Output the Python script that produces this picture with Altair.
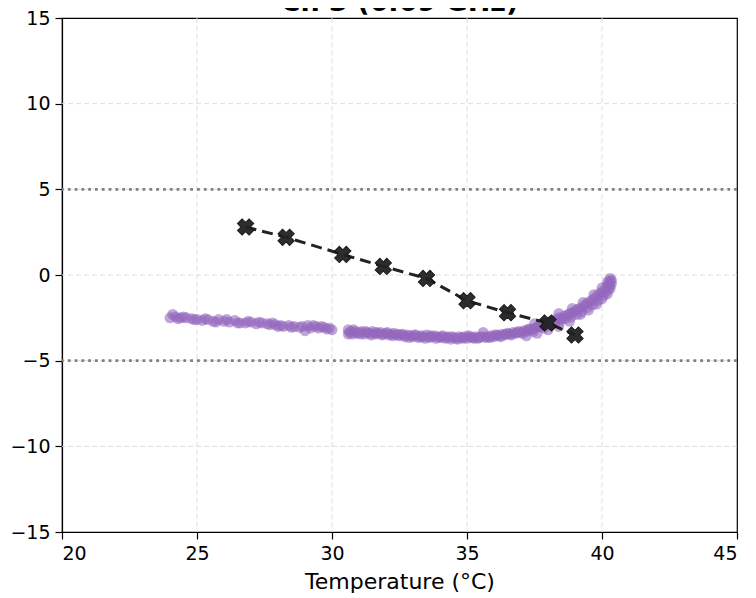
import altair as alt
import pandas as pd

# Purple measured trace (temperature, value)
trace_x = [
    24.0, 24.1, 24.2, 24.4, 24.6, 24.8, 25.0, 25.2, 25.4, 25.6, 25.8, 26.0, 26.2, 26.4,
    26.6, 26.8, 27.0, 27.2, 27.4, 27.6, 27.8, 27.9, 28.0, 28.2, 28.4, 28.6, 28.8, 29.0,
    29.1, 29.2, 29.4, 29.6, 29.8, 30.0,
    24.3, 24.5, 24.9, 25.3, 25.7, 26.1, 26.5, 26.9, 27.3, 27.7, 28.1, 28.5, 28.9, 29.3,
    29.5, 29.7, 29.9,
    30.6, 30.6, 30.7, 30.8, 30.9, 31.0, 31.1, 31.2, 31.3, 31.4, 31.5, 31.6, 31.7, 31.8,
    31.9, 32.0, 32.1, 32.2, 32.3, 32.4, 32.5, 32.6, 32.7, 32.8, 32.9, 33.0, 33.1, 33.2,
    33.3, 33.4, 33.5, 33.6, 33.7, 33.8, 33.9, 34.0, 34.1, 34.2, 34.3, 34.4, 34.5, 34.6,
    34.7, 34.8, 34.9, 35.0, 35.1, 35.2, 35.3, 35.4, 35.5, 35.6, 35.7, 35.8, 35.9, 36.0,
    36.1, 36.2, 36.3, 36.4, 36.5, 36.6, 36.7, 36.8, 36.9, 37.0, 37.1, 37.2, 37.3, 37.4,
    37.5, 37.6, 37.7, 37.8, 37.9, 38.0, 38.1, 38.2, 38.3, 38.4, 38.5, 38.6, 38.7, 38.8,
    38.9, 39.0, 39.1, 39.2, 39.3, 39.4, 39.5, 39.6, 39.7, 39.8, 39.9, 40.0, 40.1, 40.2,
    40.25, 40.3, 40.3,
    30.65, 30.75, 30.85, 31.05, 31.25, 31.45, 31.65, 31.85, 32.05, 32.25, 32.45, 32.65,
    32.85, 33.05, 33.25, 33.45, 33.65, 33.85, 34.05, 34.25, 34.45, 34.65, 34.85, 35.05,
    35.25, 35.45, 35.65, 35.85, 36.05, 36.25, 36.45, 36.65, 36.85, 37.05, 37.25, 37.45,
    37.65, 37.85, 38.05, 38.25, 38.45, 38.65, 38.85, 39.05, 39.25, 39.45, 39.65, 39.85,
    40.05, 40.15, 40.25, 40.3, 40.35,
    37.2, 37.6, 38.0, 38.4, 38.8, 39.2, 39.5, 39.8, 40.0, 40.2, 40.3, 40.35,
    37.5, 38.4, 38.9, 39.3, 39.7, 40.0, 40.2,
]
trace_y = [
    -2.5, -2.3, -2.45, -2.5, -2.5, -2.55, -2.6, -2.65, -2.6, -2.7, -2.6, -2.7, -2.75, -2.65,
    -2.8, -2.8, -2.75, -2.85, -2.8, -2.85, -2.8, -2.9, -3.0, -3.0, -2.95, -3.0, -3.05, -3.25,
    -2.95, -3.1, -3.0, -3.0, -3.15, -3.2,
    -2.55, -2.45, -2.6, -2.55, -2.75, -2.6, -2.8, -2.7, -2.75, -2.9, -2.95, -3.05, -3.0, -2.95,
    -3.1, -3.05, -3.1,
    -3.2, -3.45, -3.3, -3.2, -3.4, -3.35, -3.3, -3.45, -3.35, -3.4, -3.3, -3.45, -3.4, -3.35,
    -3.45, -3.4, -3.5, -3.45, -3.4, -3.5, -3.55, -3.45, -3.6, -3.5, -3.55, -3.6, -3.5, -3.65,
    -3.55, -3.6, -3.5, -3.65, -3.6, -3.55, -3.6, -3.65, -3.55, -3.7, -3.6, -3.75, -3.65, -3.7,
    -3.6, -3.65, -3.6, -3.7, -3.6, -3.65, -3.6, -3.7, -3.6, -3.35, -3.65, -3.6, -3.55, -3.6,
    -3.5, -3.55, -3.45, -3.5, -3.4, -3.45, -3.35, -3.4, -3.3, -3.35, -3.25, -3.3, -3.15, -3.2,
    -3.1, -3.05, -3.0, -2.95, -2.85, -2.8, -2.7, -2.75, -2.6, -2.5, -2.55, -2.4, -2.35, -2.25,
    -2.2, -2.1, -2.0, -1.95, -1.85, -1.7, -1.6, -1.5, -1.4, -1.25, -1.1, -1.0, -0.85, -0.65,
    -0.5, -0.35, -0.2,
    -3.35, -3.45, -3.3, -3.45, -3.3, -3.5, -3.35, -3.5, -3.35, -3.55, -3.45, -3.5,
    -3.65, -3.5, -3.6, -3.7, -3.55, -3.7, -3.6, -3.65, -3.6, -3.75, -3.7, -3.55,
    -3.7, -3.65, -3.6, -3.65, -3.5, -3.6, -3.45, -3.5, -3.35, -3.4, -3.2, -3.3,
    -3.0, -3.1, -2.95, -2.8, -2.7, -2.55, -2.45, -2.3, -2.15, -1.9, -1.75, -1.5,
    -1.2, -1.0, -0.8, -0.6, -0.3,
    -3.55, -3.4, -3.2, -3.0, -2.7, -2.3, -2.05, -1.7, -1.4, -1.1, -0.8, -0.5,
    -2.85, -2.25, -1.95, -1.6, -1.15, -0.75, -0.4,
]

# Black reference markers
ref_x = [26.8, 28.3, 30.4, 31.9, 33.5, 35.0, 36.5, 38.0, 39.0]
ref_y = [2.8, 2.2, 1.2, 0.5, -0.2, -1.5, -2.2, -2.8, -3.5]

limits = [5, -5]

x_ticks = [20, 25, 30, 35, 40, 45]
y_ticks = [-15, -10, -5, 0, 5, 10, 15]
x_grid = [25, 30, 35, 40]
y_grid = [-10, -5, 0, 5, 10]

trace_df = pd.DataFrame({"t": trace_x, "v": trace_y})
ref_df = pd.DataFrame({"t": ref_x, "v": ref_y, "order": list(range(len(ref_x)))})
lim_df = pd.DataFrame({"v": limits})
xg_df = pd.DataFrame({"t": x_grid})
yg_df = pd.DataFrame({"v": y_grid})

FONT = "DejaVu Sans"

xscale = alt.Scale(domain=[20, 45], nice=False, zero=False)
yscale = alt.Scale(domain=[-15, 15], nice=False, zero=False)

xaxis = alt.Axis(values=x_ticks, title="Temperature (°C)", grid=False, format="d")
yaxis = alt.Axis(values=y_ticks, title=None, grid=False, format="d")

xgrid = alt.Chart(xg_df).mark_rule(color="#dddddd", strokeWidth=1, strokeDash=[5, 3]).encode(
    x=alt.X("t:Q", scale=xscale, axis=xaxis)
)
ygrid = alt.Chart(yg_df).mark_rule(color="#dddddd", strokeWidth=1, strokeDash=[5, 3]).encode(
    y=alt.Y("v:Q", scale=yscale, axis=yaxis)
)

lims = alt.Chart(lim_df).mark_rule(
    color="#808080", strokeWidth=2.8, strokeDash=[2.8, 4]
).encode(y=alt.Y("v:Q", scale=yscale, axis=yaxis))

pts = alt.Chart(trace_df).mark_point(
    filled=True, shape="circle", size=120, color="#9467bd", opacity=0.58
).encode(
    x=alt.X("t:Q", scale=xscale, axis=xaxis),
    y=alt.Y("v:Q", scale=yscale, axis=yaxis),
)

line = alt.Chart(ref_df).mark_line(
    color="#222222", strokeWidth=3, strokeDash=[11, 6]
).encode(
    x=alt.X("t:Q", scale=xscale, axis=xaxis),
    y=alt.Y("v:Q", scale=yscale, axis=yaxis),
    order="order:Q",
)

marks = alt.Chart(ref_df).mark_point(
    filled=True, shape="cross", angle=45, size=270, color="#222222", opacity=0.95,
    stroke="#111111", strokeWidth=1
).encode(
    x=alt.X("t:Q", scale=xscale, axis=xaxis),
    y=alt.Y("v:Q", scale=yscale, axis=yaxis),
)

chart = (
    alt.layer(xgrid, ygrid, lims, pts, line, marks)
    .properties(
        width=675,
        height=514,
        title=alt.TitleParams(
            "Ch 3 (6.69 GHz)", fontSize=27, fontWeight="bold", font=FONT,
            color="black", offset=-8, anchor="middle", frame="group",
        ),
        autosize=alt.AutoSizeParams(type="none"),
        padding={"left": 54, "top": 10, "right": 10, "bottom": 64},
    )
    .configure_view(stroke="black", strokeWidth=1.2)
    .configure_axis(
        domainColor="black", domainWidth=1.2, tickColor="black", tickSize=7, tickWidth=1.2,
        labelFont=FONT, labelFontSize=19, labelColor="black", labelPadding=5,
        titleFont=FONT, titleFontSize=22, titleColor="black", titleFontWeight="normal",
        titlePadding=8,
    )
)

chart.save("out.html", embed_options={"renderer": "svg", "actions": False})
